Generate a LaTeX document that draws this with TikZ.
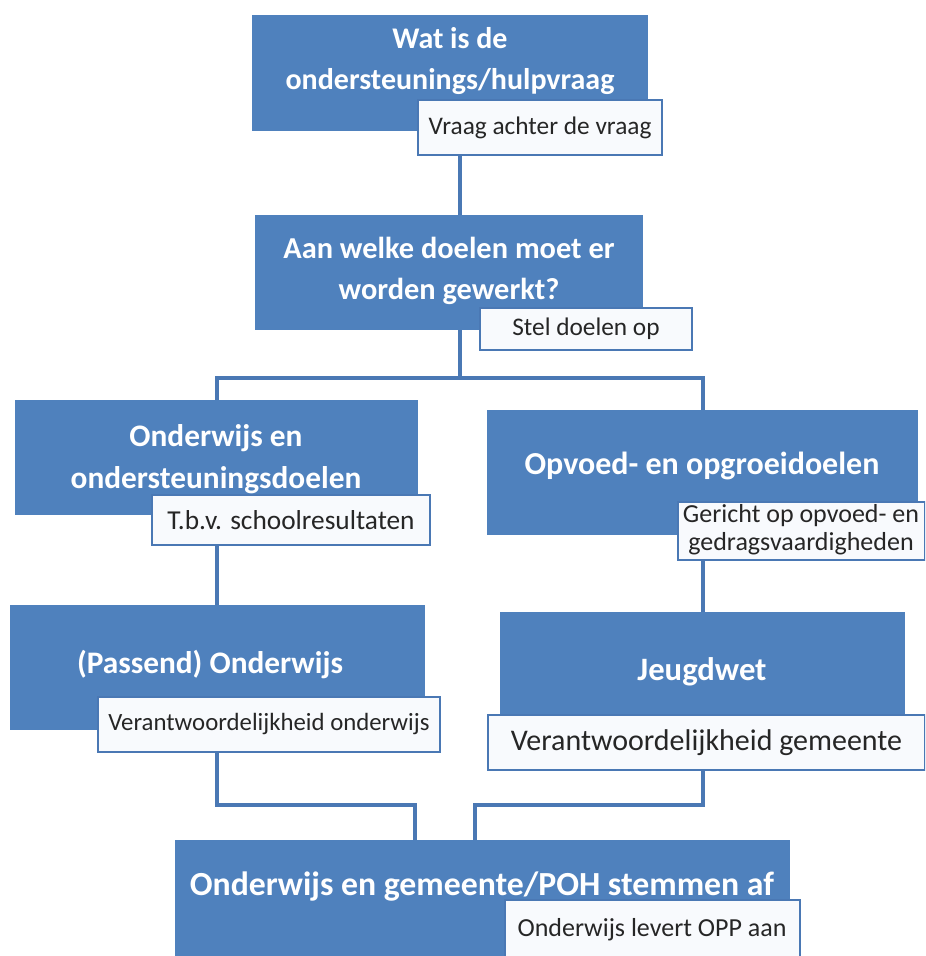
\documentclass[tikz,border=0pt]{standalone}
\usepackage{fontspec}
\setmainfont{Carlito}
\usetikzlibrary{fit}
\definecolor{boxblue}{HTML}{4F81BD}
\definecolor{lineblue}{HTML}{4A78B4}
\definecolor{subtxt}{HTML}{262626}
\definecolor{subfill}{HTML}{F8FAFD}
\tikzset{
  bigbox/.style={fill=boxblue, draw=none, inner sep=0pt},
  subbox/.style={fill=subfill, draw=lineblue, line width=1.7pt, inner sep=0pt},
  title/.style={text=white, align=center, inner sep=0pt, font=\bfseries\fontsize{#1}{31}\selectfont},
  title/.default=23.5,
  subtext/.style={text=subtxt, align=center, inner sep=0pt, font=\fontsize{#1}{24}\selectfont},
  subtext/.default=19,
  conn/.style={draw=lineblue, line width=3pt}
}
\begin{document}
\begin{tikzpicture}[x=0.75pt, y=-0.75pt]
\useasboundingbox (0,0) rectangle (925,956);
\clip (0,0) rectangle (925,956);
% junction coordinates
\coordinate (j0) at (460,378);
\coordinate (jl) at (217,378);
\coordinate (jr) at (703,378);
\coordinate (ml) at (217,805);
\coordinate (mr) at (703,805);
\coordinate (bl) at (415,805);
\coordinate (br) at (475,805);

% boxes
\node[bigbox, fit={(252,15) (648,131)}] (b1) {};
\node[title=22.5] (t1) at (450,61) {Wat is de\\ondersteunings/hulpvraag};
\node[subbox, fit={(418,100) (662,155)}] (s1) {};
\node[subtext] (u1) at (s1.center) {Vraag achter de vraag};

\node[bigbox, fit={(255,215) (643,330)}] (b2) {};
\node[title=22.8] (t2) at (449,271) {Aan welke doelen moet er\\worden gewerkt?};
\node[subbox, fit={(480,308) (692,350)}] (s2) {};
\node[subtext] (u2) at (s2.center) {Stel doelen op};

\node[bigbox, fit={(15,400) (418,515)}] (b3) {};
\node[title] (t3) at (216,459) {Onderwijs en\\ondersteuningsdoelen};
\node[subbox, fit={(152,495) (430,545)}] (s3) {};
\node[subtext=20.5] (u3) at (s3.center) {T.b.v. schoolresultaten};

\node[bigbox, fit={(487,410) (918,535)}] (b4) {};
\node[title=24] (t4) at (702,466) {Opvoed- en opgroeidoelen};
\node[subbox, fit={(678,502) (925,560)}] (s4) {};
\node[text=subtxt, align=center, inner sep=0pt, font=\fontsize{19.5}{21}\selectfont] (u4) at (801,530) {Gericht op opvoed- en\\gedragsvaardigheden};

\node[bigbox, fit={(10,605) (425,730)}] (b5) {};
\node[title] (t5) at (210,665) {(Passend) Onderwijs};
\node[subbox, fit={(98,697) (440,752)}] (s5) {};
\node[subtext=18.6] (u5) at (s5.center) {Verantwoordelijkheid onderwijs};

\node[bigbox, fit={(500,612) (905,742)}] (b6) {};
\node[title=24.5] (t6) at (702,672) {Jeugdwet};
\node[subbox, fit={(488,715) (925,770)}] (s6) {};
\node[subtext=22.5] (u6) at (s6.center) {Verantwoordelijkheid gemeente};

\node[bigbox, fit={(175,840) (790,962)}] (b7) {};
\node[title=25.3] (t7) at (482,887) {Onderwijs en gemeente/POH stemmen af};
\node[subbox, fit={(505,900) (800,962)}] (s7) {};
\node[subtext=19.5] (u7) at (652,930) {Onderwijs levert OPP aan};

% connectors
\draw[conn] (s1.south -| j0) -- (b2.north -| j0);
\draw[conn] (b2.south -| j0) -- (j0);
\draw[conn] (b3.north -| jl) -- (jl) -- (jr) -- (b4.north -| jr);
\draw[conn] (s3.south -| jl) -- (b5.north -| jl);
\draw[conn] (s4.south -| jr) -- (b6.north -| jr);
\draw[conn] (s5.south -| ml) -- (ml) -- (bl) -- (b7.north -| bl);
\draw[conn] (s6.south -| mr) -- (mr) -- (br) -- (b7.north -| br);
\end{tikzpicture}
\end{document}
